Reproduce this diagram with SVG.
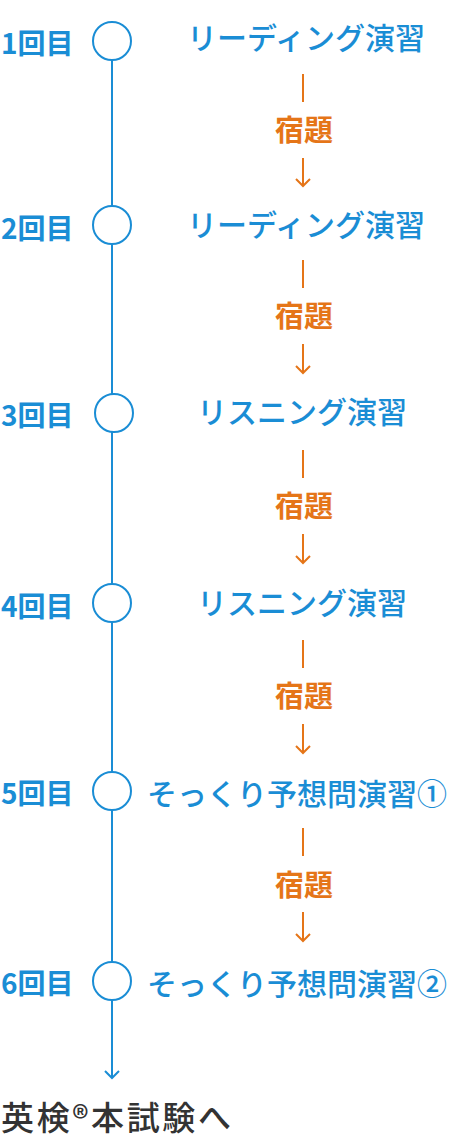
<svg xmlns="http://www.w3.org/2000/svg" width="460" height="1140" viewBox="0 0 460 1140">
<defs>
<style>
.lbl{font-family:"Noto Sans CJK JP","Noto Sans",sans-serif;font-size:28px;font-weight:700;fill:#1a8dd5}
.ttl{font-family:"Noto Sans CJK JP","Noto Sans",sans-serif;font-size:30px;font-weight:500;fill:#1a8dd5}
.hw{font-family:"Noto Sans CJK JP","Noto Sans",sans-serif;font-size:29px;font-weight:700;fill:#e57518;text-anchor:middle}
.end{font-family:"Noto Sans CJK JP","Noto Sans",sans-serif;font-size:33px;font-weight:500;fill:#333333}
.node{fill:#ffffff;stroke:#1a8dd5;stroke-width:2}
.tl{stroke:#1a8dd5;stroke-width:2;fill:none}
.og{stroke:#e57518;stroke-width:2;fill:none}
</style>
</defs>
<g id="connectors">
<line class="tl" x1="112" y1="60" x2="112" y2="1078"/>
<polyline class="tl" points="105,1071 112,1078 119,1071"/>
<g id="hw1">
<line class="og" x1="303" y1="74" x2="303" y2="102"/>
<line class="og" x1="303" y1="158" x2="303" y2="186"/>
<polyline class="og" points="296,179 303,186 310,179"/>
</g>
<g id="hw2">
<line class="og" x1="303" y1="260" x2="303" y2="288"/>
<line class="og" x1="303" y1="344" x2="303" y2="373"/>
<polyline class="og" points="296,366 303,373 310,366"/>
</g>
<g id="hw3">
<line class="og" x1="303" y1="450" x2="303" y2="478"/>
<line class="og" x1="303" y1="534" x2="303" y2="563"/>
<polyline class="og" points="296,556 303,563 310,556"/>
</g>
<g id="hw4">
<line class="og" x1="303" y1="640" x2="303" y2="668"/>
<line class="og" x1="303" y1="724" x2="303" y2="753"/>
<polyline class="og" points="296,746 303,753 310,746"/>
</g>
<g id="hw5">
<line class="og" x1="303" y1="828" x2="303" y2="856"/>
<line class="og" x1="303" y1="912" x2="303" y2="941"/>
<polyline class="og" points="296,934 303,941 310,934"/>
</g>
</g>
<g id="step1">
<circle class="node" cx="112" cy="41" r="19"/>
<text class="lbl" x="1" y="54">1回目</text>
<text class="ttl" x="187" y="49">リーディング演習</text>
</g>
<text class="hw" x="304" y="141">宿題</text>
<g id="step2">
<circle class="node" cx="112" cy="225" r="19"/>
<text class="lbl" x="1" y="239">2回目</text>
<text class="ttl" x="187" y="236">リーディング演習</text>
</g>
<text class="hw" x="304" y="327">宿題</text>
<g id="step3">
<circle class="node" cx="114" cy="413" r="19"/>
<text class="lbl" x="1" y="426">3回目</text>
<text class="ttl" x="197" y="423">リスニング演習</text>
</g>
<text class="hw" x="304" y="517">宿題</text>
<g id="step4">
<circle class="node" cx="112" cy="603" r="19"/>
<text class="lbl" x="1" y="617">4回目</text>
<text class="ttl" x="197" y="614">リスニング演習</text>
</g>
<text class="hw" x="304" y="707">宿題</text>
<g id="step5">
<circle class="node" cx="112" cy="791" r="19"/>
<text class="lbl" x="1" y="804">5回目</text>
<text class="ttl" x="147" y="805">そっくり予想問演習①</text>
</g>
<text class="hw" x="304" y="896">宿題</text>
<g id="step6">
<circle class="node" cx="112" cy="981" r="19"/>
<text class="lbl" x="1" y="994">6回目</text>
<text class="ttl" x="147" y="995">そっくり予想問演習②</text>
</g>
<g id="goal">
<text class="end" x="1" y="1130" textLength="230" lengthAdjust="spacing">英検®本試験へ</text>
</g>
</svg>
